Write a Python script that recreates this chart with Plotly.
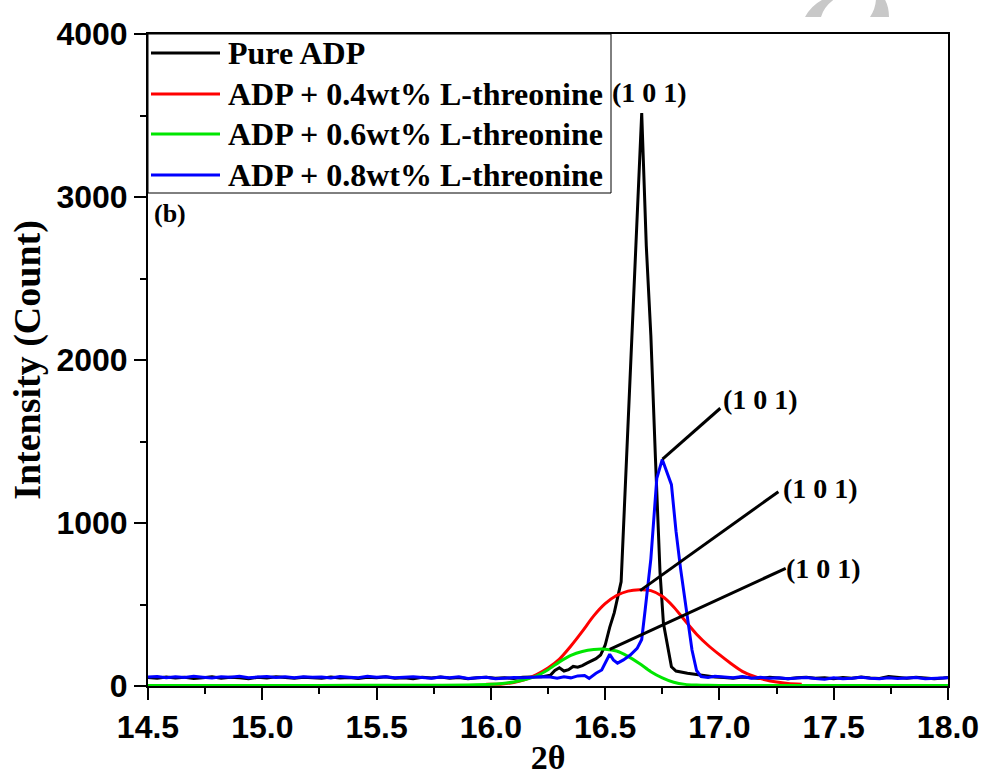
import plotly.graph_objects as go

# ---------------- data ----------------
X_LEFT = [14.50, 14.54, 14.58, 14.62, 14.66, 14.70, 14.74, 14.78, 14.82, 14.86,
          14.90, 14.94, 14.98, 15.02, 15.06, 15.10, 15.14, 15.18, 15.22, 15.26,
          15.30, 15.34, 15.38, 15.42, 15.46, 15.50, 15.54, 15.58, 15.62, 15.66,
          15.70, 15.74, 15.78, 15.82, 15.86, 15.90, 15.94, 15.98, 16.02, 16.06,
          16.10, 16.14, 16.18, 16.22]
X_RIGHT = [17.02, 17.06, 17.10, 17.14, 17.18, 17.22, 17.26, 17.30, 17.34, 17.38,
           17.42, 17.46, 17.50, 17.54, 17.58, 17.62, 17.66, 17.70, 17.74, 17.78,
           17.82, 17.86, 17.90, 17.94, 17.98, 18.00]

# Pure ADP
pure_x_peak = [16.26, 16.28, 16.30, 16.32, 16.34, 16.36, 16.38, 16.40, 16.42, 16.44,
               16.46, 16.48, 16.50, 16.52, 16.54, 16.57, 16.615, 16.66, 16.68, 16.70,
               16.72, 16.74, 16.755, 16.775, 16.79, 16.81, 16.83, 16.86, 16.90, 16.94, 16.98]
pure_y_left = [52, 47, 55, 49, 53, 46, 51, 57, 48, 54, 50, 45, 53, 49, 56, 51, 47, 54, 50, 48,
               55, 49, 52, 46, 53, 50, 57, 48, 51, 45, 53, 49, 55, 47, 52, 44, 50, 54, 48, 51,
               46, 53, 55, 56]
pure_y_peak = [66, 95, 112, 92, 100, 120, 115, 125, 140, 155,
               168, 190, 250, 360, 450, 640, 2080, 3515, 2700, 2150,
               1400, 700, 385, 240, 118, 92, 85, 78, 70, 62, 55]
pure_y_right = [52, 48, 55, 50, 46, 53, 49, 45, 51, 54, 47, 50, 44, 52, 48, 55, 49, 46, 58, 51,
                47, 53, 50, 45, 49, 52]

# ADP + 0.4 wt% L-threonine
t04_x = [15.98, 16.05, 16.10, 16.15, 16.20, 16.25, 16.30, 16.35, 16.40, 16.45,
         16.50, 16.55, 16.60, 16.65, 16.70, 16.75, 16.80, 16.85, 16.90, 16.95,
         17.00, 17.05, 17.10, 17.15, 17.20, 17.25, 17.30, 17.36]
t04_y = [10, 12, 22, 40, 70, 110, 165, 245, 335, 430,
         505, 555, 582, 590, 585, 550, 485, 400, 318, 250,
         192, 138, 90, 60, 38, 24, 15, 10]

# ADP + 0.6 wt% L-threonine
t06_x = [14.50, 14.80, 15.10, 15.40, 15.70, 15.90, 16.00, 16.05, 16.10, 16.15,
         16.20, 16.25, 16.30, 16.35, 16.40, 16.45, 16.50, 16.55, 16.60, 16.65,
         16.70, 16.75, 16.80, 16.85, 16.90, 16.95, 17.00, 17.30, 17.60, 18.00]
t06_y = [3, 3, 3, 4, 4, 6, 10, 16, 25, 40,
         62, 100, 148, 188, 212, 224, 226, 215, 182, 138,
         88, 50, 23, 10, 6, 4, 3, 3, 3, 3]

# ADP + 0.8 wt% L-threonine
t08_x_peak = [16.26, 16.29, 16.32, 16.35, 16.38, 16.41, 16.43, 16.46, 16.485, 16.507,
              16.52, 16.536, 16.554, 16.58, 16.61, 16.64, 16.66, 16.675, 16.69, 16.70,
              16.726, 16.75, 16.79, 16.81, 16.83, 16.857, 16.88, 16.90, 16.92, 16.95, 16.98]
t08_y_left = [55, 58, 50, 56, 52, 59, 54, 49, 57, 53, 60, 51, 55, 58, 52, 56, 50, 57, 53, 55,
              49, 58, 54, 51, 60, 53, 56, 50, 54, 57, 52, 48, 55, 51, 57, 46, 50, 53, 44, 48,
              52, 50, 55, 57]
t08_y_peak = [55, 47, 56, 50, 62, 65, 47, 78, 98, 160,
              195, 160, 140, 160, 190, 231, 285, 466, 650, 780,
              1274, 1390, 1235, 950, 720, 466, 221, 95, 58, 52, 60]
t08_y_right = [55, 50, 58, 48, 53, 47, 51, 44, 49, 52, 46, 42, 50, 45, 48, 53, 47, 44, 50, 46,
               49, 52, 45, 48, 53, 50]

SERIES_NAMES = ["Pure ADP", "ADP + 0.4wt% L-threonine",
                "ADP + 0.6wt% L-threonine", "ADP + 0.8wt% L-threonine"]
SERIES_COLORS = ["#000000", "#ff0000", "#00e600", "#0000ff"]
SERIES_SHAPES = ["linear", "spline", "spline", "linear"]

# peak labels: (text x, text y, leader start x, start y, end x, end y)
PEAK_LABEL = "(1 0 1)"
LABEL_TOP = (16.696, 3640)
LABEL_LEADERS = [
    (17.181, 1755, 16.751, 1392, 17.004, 1704),
    (17.440, 1213, 16.653, 585, 17.258, 1192),
    (17.455, 718, 16.520, 225, 17.290, 722),
]

X_TICKS = [14.5, 15.0, 15.5, 16.0, 16.5, 17.0, 17.5, 18.0]
Y_TICKS = [0, 1000, 2000, 3000, 4000]

# ---------------- figure ----------------
series = [
    (X_LEFT + pure_x_peak + X_RIGHT, pure_y_left + pure_y_peak + pure_y_right),
    (t04_x, t04_y),
    (t06_x, t06_y),
    (X_LEFT + t08_x_peak + X_RIGHT, t08_y_left + t08_y_peak + t08_y_right),
]

fig = go.Figure()
for (xs, ys), name, col, shp in zip(series, SERIES_NAMES, SERIES_COLORS, SERIES_SHAPES):
    fig.add_trace(go.Scatter(x=xs, y=ys, mode="lines", name=name,
                             line=dict(color=col, width=3, shape=shp, smoothing=0.8),
                             showlegend=False))

SERIF = "Liberation Serif"
SANS = "Liberation Sans"

annotations = []
shapes = []

LABEL_FONT = dict(family=SERIF, size=28, color="black", weight="bold")
annotations.append(dict(x=LABEL_TOP[0], y=LABEL_TOP[1], xref="x", yref="y",
                        text=PEAK_LABEL, showarrow=False, font=LABEL_FONT))
for tx, ty, x0, y0, x1, y1 in LABEL_LEADERS:
    shapes.append(dict(type="line", xref="x", yref="y", x0=x0, y0=y0, x1=x1, y1=y1,
                       line=dict(color="black", width=3)))
    annotations.append(dict(x=tx, y=ty, xref="x", yref="y", text=PEAK_LABEL,
                            showarrow=False, font=LABEL_FONT))

PW, PH, L = 800, 652, 148
def px(xp):
    return (xp - L) / PW
def py(yp):
    return (686 - yp) / PH

# panel letter
annotations.append(dict(x=px(152), y=py(214), xref="paper", yref="paper",
                        xanchor="left", yanchor="middle", text="(b)", showarrow=False,
                        font=dict(family=SERIF, size=26, color="black", weight="bold")))

# legend box drawn manually (long line samples as in the reference)
shapes.append(dict(type="rect", xref="paper", yref="paper", x0=0, x1=px(611), y0=py(193), y1=1,
                   line=dict(color="black", width=1), fillcolor="white", layer="above"))
row_y = [53, 94, 134, 175]
for name, col, ry in zip(SERIES_NAMES, SERIES_COLORS, row_y):
    shapes.append(dict(type="line", xref="paper", yref="paper", x0=px(151), x1=px(220),
                       y0=py(ry), y1=py(ry), line=dict(color=col, width=3), layer="above"))
    annotations.append(dict(x=px(226), y=py(ry), xref="paper", yref="paper",
                            xanchor="left", yanchor="middle", text=name, showarrow=False,
                            font=dict(family=SERIF, size=32, color="black", weight="bold")))

# faint grey watermark fragments
shapes.append(dict(type="path", xref="paper", yref="paper",
                   path=f"M{px(805)},{py(17)} Q{px(812)},{py(4)} {px(826)},{py(-2)} "
                        f"L{px(836)},{py(-2)} Q{px(824)},{py(6)} {px(821)},{py(17)} Z",
                   fillcolor="#c8c8c8", line=dict(width=0)))
shapes.append(dict(type="path", xref="paper", yref="paper",
                   path=f"M{px(870)},{py(17)} L{px(889)},{py(17)} Q{px(889)},{py(6)} {px(884)},{py(-2)} "
                        f"L{px(876)},{py(-2)} Q{px(876)},{py(8)} {px(870)},{py(17)} Z",
                   fillcolor="#c8c8c8", line=dict(width=0)))

fig.update_layout(
    width=984, height=776,
    margin=dict(l=148, r=36, t=34, b=90, autoexpand=False),
    paper_bgcolor="white", plot_bgcolor="white",
    showlegend=False,
    annotations=annotations, shapes=shapes,
    xaxis=dict(
        range=[14.5, 18.0], tickvals=X_TICKS, ticktext=[f"{v:.1f}" for v in X_TICKS],
        showgrid=False, zeroline=False, automargin=False,
        showline=True, linecolor="black", linewidth=2, mirror=True,
        ticks="outside", ticklen=12, tickwidth=2, tickcolor="black",
        minor=dict(ticks="outside", ticklen=6, tickwidth=2, tickcolor="black",
                   tickvals=[14.75, 15.25, 15.75, 16.25, 16.75, 17.25, 17.75]),
        tickfont=dict(family=SANS, size=32, color="black", weight="bold"),
        title=dict(text="2θ", standoff=6,
                   font=dict(family=SERIF, size=34, color="black", weight="bold")),
    ),
    yaxis=dict(
        range=[0, 4000], tickvals=Y_TICKS,
        showgrid=False, zeroline=False, automargin=False,
        showline=True, linecolor="black", linewidth=2, mirror=True,
        ticks="outside", ticklen=12, tickwidth=2, tickcolor="black",
        minor=dict(ticks="outside", ticklen=6, tickwidth=2, tickcolor="black",
                   tickvals=[500, 1500, 2500, 3500]),
        tickfont=dict(family=SANS, size=32, color="black", weight="bold"),
        title=dict(text="Intensity (Count)", standoff=4,
                   font=dict(family=SERIF, size=38, color="black", weight="bold")),
    ),
)

fig.write_html("out.html")
